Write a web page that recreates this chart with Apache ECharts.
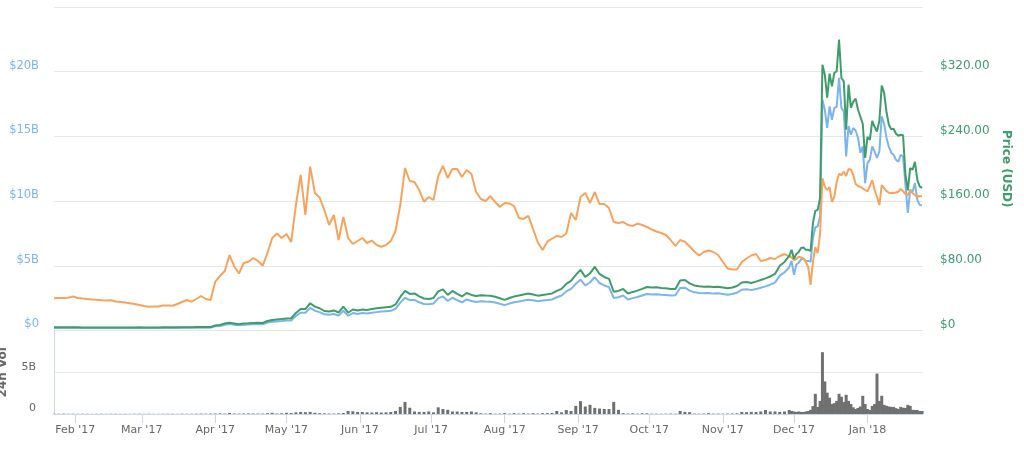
<!DOCTYPE html>
<html>
<head>
<meta charset="utf-8">
<title>Litecoin charts</title>
<script src="https://cdn.jsdelivr.net/npm/echarts@6/dist/echarts.min.js"></script>
<style>
  html, body { margin: 0; padding: 0; background: #fff; }
  #chart { width: 1024px; height: 452px; }
</style>
</head>
<body>
<div id="chart"></div>
<script>
// x is counted in days since 23 Jan 2017: every second day up to end of Nov, then daily
var startDay = Date.UTC(2017, 0, 23);
var dayMs = 86400000;
var dayOffsets = [];
for (var d = 0; d <= 310; d += 2) dayOffsets.push(d);
for (var d2 = 311; d2 <= 366; d2++) dayOffsets.push(d2);

var monthStarts = [
  Date.UTC(2017, 1, 1), Date.UTC(2017, 2, 1), Date.UTC(2017, 3, 1), Date.UTC(2017, 4, 1),
  Date.UTC(2017, 5, 1), Date.UTC(2017, 6, 1), Date.UTC(2017, 7, 1), Date.UTC(2017, 8, 1),
  Date.UTC(2017, 9, 1), Date.UTC(2017, 10, 1), Date.UTC(2017, 11, 1), Date.UTC(2018, 0, 1)
];
var monthNames = ['Jan', 'Feb', 'Mar', 'Apr', 'May', 'Jun', 'Jul', 'Aug', 'Sep', 'Oct', 'Nov', 'Dec'];

// market cap, billions USD
var marketCap = [
  0.20, 0.20, 0.20, 0.20, 0.21, 0.20, 0.19, 0.19, 0.19, 0.19,
  0.19, 0.19, 0.19, 0.19, 0.19, 0.19, 0.19, 0.19, 0.20, 0.19,
  0.19, 0.19, 0.19, 0.20, 0.20, 0.20, 0.20, 0.21, 0.21, 0.21,
  0.22, 0.22, 0.22, 0.22,
  0.32, 0.35, 0.45, 0.50, 0.45, 0.40, 0.45, 0.46, 0.48, 0.49, 0.48, 0.61, 0.67, 0.70, 0.73, 0.77, 0.78,
  1.12, 1.38, 1.37, 1.75, 1.53, 1.42, 1.25, 1.22, 1.28, 1.16,
  1.53, 1.14, 1.35, 1.28, 1.35, 1.32, 1.38, 1.42, 1.46, 1.49,
  1.52, 1.67, 2.15, 2.53, 2.34, 2.37, 2.18, 2.05, 2.02, 2.08,
  2.50, 2.63, 2.28, 2.53, 2.34, 2.18, 2.40, 2.28, 2.21, 2.26,
  2.24, 2.23, 2.17, 2.07, 1.96, 2.08, 2.18, 2.24, 2.31, 2.37,
  2.34, 2.26, 2.31, 2.35, 2.40, 2.57, 2.70, 3.02, 3.22, 3.61,
  3.93, 3.48, 3.71, 4.13, 3.67, 3.48, 3.35, 2.51, 2.57, 2.70,
  2.40, 2.50, 2.59, 2.70, 2.82, 2.79, 2.81, 2.76, 2.74, 2.70,
  2.72, 3.28, 3.31, 3.08, 2.95, 2.90, 2.87, 2.89, 2.85, 2.87,
  2.82, 2.77, 2.82, 2.92, 3.15, 3.18, 3.12, 3.20, 3.31, 3.41,
  3.54, 3.70, 4.24, 4.49, 4.89,
  5.38, 4.30, 5.10, 5.24, 5.50, 5.54, 5.38, 5.38, 5.30, 7.15,
  7.98, 8.04, 8.84, 17.84, 17.07, 15.65, 17.32, 16.29, 17.20, 17.28,
  19.52, 17.20, 16.93, 13.45, 15.80, 15.13, 15.65, 15.44, 14.90, 13.72,
  14.23, 11.39, 12.94, 13.20, 14.23, 13.82, 13.33, 13.84, 16.55, 15.98,
  14.90, 14.20, 13.74, 13.58, 13.20, 13.04, 13.58, 13.45, 11.26, 9.09,
  10.87, 10.74, 11.39, 10.10, 9.71, 9.67
];

// price in USD
var priceUsd = [
  3.9, 3.9, 3.9, 3.9, 4.0, 3.9, 3.8, 3.8, 3.8, 3.8,
  3.8, 3.8, 3.8, 3.8, 3.8, 3.8, 3.8, 3.8, 3.9, 3.8,
  3.8, 3.8, 3.8, 3.9, 3.9, 3.9, 3.9, 4.1, 4.1, 4.1,
  4.2, 4.3, 4.2, 4.3,
  6.2, 6.8, 8.7, 9.7, 8.7, 7.7, 8.7, 8.9, 9.3, 9.5, 9.3, 11.8, 13.0, 13.6, 14.2, 14.9, 15.1,
  21.7, 26.6, 26.5, 33.7, 29.5, 27.5, 24.1, 23.5, 24.8, 22.3,
  29.5, 22.0, 26.0, 24.8, 26.0, 25.4, 26.6, 27.5, 28.1, 28.7,
  29.3, 32.2, 41.5, 48.9, 45.2, 45.8, 42.1, 39.6, 39.0, 40.2,
  48.3, 50.8, 44.0, 48.9, 45.2, 42.1, 46.4, 44.0, 42.7, 43.7,
  43.3, 43.0, 41.8, 39.9, 37.8, 40.2, 42.1, 43.3, 44.6, 45.8,
  44.6, 43.1, 44.0, 44.8, 45.8, 48.9, 51.4, 57.6, 61.3, 68.7,
  74.9, 66.2, 70.6, 78.6, 69.9, 66.2, 63.8, 47.9, 48.9, 51.4,
  45.8, 47.7, 49.3, 51.4, 53.8, 53.2, 53.5, 52.6, 52.2, 51.4,
  51.4, 61.9, 62.5, 58.2, 55.7, 54.7, 54.2, 54.5, 53.8, 54.2,
  53.2, 52.2, 53.2, 55.1, 59.4, 60.0, 58.8, 60.4, 62.5, 64.4,
  66.8, 69.9, 80.0, 84.8, 92.2,
  99.7, 88.5, 94.7, 97.2, 102.0, 102.7, 99.7, 99.7, 98.4, 132.7,
  148.0, 149.2, 164.0, 328.7, 316.3, 287.8, 317.5, 301.8, 318.4, 320.6,
  359.6, 312.2, 308.0, 248.2, 303.9, 275.4, 282.9, 286.6, 273.0, 264.3,
  255.6, 213.5, 239.5, 235.8, 259.3, 251.9, 246.1, 259.3, 302.7, 294.0,
  270.5, 254.4, 248.8, 249.4, 243.3, 240.8, 242.0, 241.4, 192.5, 173.3,
  200.8, 198.7, 208.6, 186.3, 178.3, 176.4
];

// price in BTC
var priceBtc = [
  0.00418, 0.00422, 0.00422, 0.00425, 0.00441, 0.00422, 0.00415, 0.00409, 0.00402, 0.00399,
  0.00393, 0.00389, 0.00392, 0.00376, 0.00370, 0.00364, 0.00353, 0.00344, 0.00331, 0.00318,
  0.00309, 0.00312, 0.00312, 0.00325, 0.00325, 0.00322, 0.00344, 0.00370, 0.00396, 0.00374,
  0.00409, 0.00448, 0.00409, 0.00396,
  0.00634, 0.00708, 0.00772, 0.00980, 0.00831, 0.00740, 0.00876, 0.00893, 0.00941, 0.00902,
  0.00841, 0.01006, 0.01201, 0.01259, 0.01201, 0.01253, 0.01149,
  0.01629, 0.02019, 0.01500, 0.02127, 0.01785, 0.01727, 0.01564, 0.01370, 0.01500, 0.01175,
  0.01474, 0.01201, 0.01123, 0.01162, 0.01201, 0.01136, 0.01168, 0.01110, 0.01088, 0.01110,
  0.01162, 0.01292, 0.01629, 0.02110, 0.01941, 0.01928, 0.01824, 0.01672, 0.01733, 0.01694,
  0.02006, 0.02136, 0.01980, 0.02097, 0.02097, 0.01993, 0.02084, 0.02032, 0.01798, 0.01707,
  0.01681, 0.01746, 0.01668, 0.01603, 0.01655, 0.01649, 0.01616, 0.01461, 0.01448, 0.01487,
  0.01318, 0.01143, 0.01045, 0.01153, 0.01194, 0.01227, 0.01214, 0.01259, 0.01526, 0.01435,
  0.01733, 0.01785, 0.01655, 0.01798, 0.01642, 0.01642, 0.01590, 0.01409, 0.01396, 0.01409,
  0.01370, 0.01357, 0.01389, 0.01370, 0.01344, 0.01311, 0.01285, 0.01266, 0.01240, 0.01175,
  0.01097, 0.01175, 0.01153, 0.01091, 0.01026, 0.00974, 0.01019, 0.01039, 0.01019, 0.00980,
  0.00893, 0.00805, 0.00792, 0.00792, 0.00889, 0.00935, 0.00974, 0.00993, 0.00902, 0.00915,
  0.00941, 0.00928, 0.00967, 0.00993, 0.00961,
  0.00950, 0.00915, 0.00928, 0.00958, 0.00948, 0.00937, 0.00889, 0.00824, 0.00591, 0.00889,
  0.01084, 0.01006, 0.01253, 0.01976, 0.01867, 0.01824, 0.01863, 0.01672, 0.01733, 0.01928,
  0.02032, 0.02019, 0.02062, 0.02006, 0.02097, 0.02090, 0.02019, 0.01902, 0.01876, 0.01863,
  0.01844, 0.01824, 0.01805, 0.01876, 0.01954, 0.01824, 0.01737, 0.01629, 0.01889, 0.01850,
  0.01811, 0.01789, 0.01785, 0.01785, 0.01792, 0.01802, 0.01837, 0.01811, 0.01772, 0.01759,
  0.01824, 0.01785, 0.01759, 0.01737, 0.01746, 0.01740
];

// 24h volume, billions USD
var volume = [
  0.03, 0.03, 0.04, 0.03, 0.03, 0.02, 0.03, 0.03, 0.02, 0.03,
  0.03, 0.02, 0.03, 0.03, 0.02, 0.03, 0.02, 0.03, 0.03, 0.02,
  0.03, 0.02, 0.02, 0.03, 0.03, 0.03, 0.02, 0.04, 0.03, 0.03,
  0.04, 0.05, 0.04, 0.05,
  0.06, 0.08, 0.05, 0.12, 0.06, 0.05, 0.06, 0.07, 0.06, 0.05, 0.05, 0.10, 0.14, 0.06, 0.08, 0.14, 0.12,
  0.20, 0.24, 0.22, 0.25, 0.15, 0.10, 0.08, 0.06, 0.05, 0.08,
  0.12, 0.36, 0.33, 0.25, 0.24, 0.20, 0.18, 0.22, 0.18, 0.20,
  0.24, 0.36, 0.85, 1.45, 0.75, 0.30, 0.25, 0.25, 0.30, 0.20,
  0.80, 0.60, 0.50, 0.30, 0.30, 0.25, 0.25, 0.30, 0.20, 0.08,
  0.05, 0.10, 0.04, 0.05, 0.10, 0.04, 0.10, 0.05, 0.10, 0.05,
  0.10, 0.05, 0.10, 0.10, 0.12, 0.36, 0.20, 0.48, 0.36, 0.97,
  1.54, 0.90, 1.10, 0.73, 0.65, 0.60, 0.60, 1.45, 0.50, 0.10,
  0.05, 0.08, 0.04, 0.08, 0.08, 0.04, 0.04, 0.03, 0.04, 0.05,
  0.04, 0.36, 0.25, 0.22, 0.05, 0.04, 0.06, 0.10, 0.04, 0.05,
  0.04, 0.05, 0.06, 0.08, 0.25, 0.22, 0.25, 0.24, 0.30, 0.48,
  0.30, 0.30, 0.25, 0.30, 0.48,
  0.36, 0.30, 0.25, 0.30, 0.25, 0.24, 0.30, 0.36, 0.50, 0.95,
  2.42, 0.85, 1.57, 7.40, 3.90, 2.55, 1.95, 1.20, 1.30, 1.57,
  2.42, 2.06, 1.45, 2.30, 1.57, 1.20, 0.80, 0.60, 0.73, 0.90,
  2.18, 1.20, 0.60, 0.48, 0.97, 1.20, 4.84, 1.57, 2.18, 1.09,
  0.97, 0.90, 0.85, 0.85, 0.70, 0.60, 0.85, 0.75, 0.73, 1.09,
  0.97, 0.50, 0.48, 0.48, 0.36, 0.36
];

function pairs(values) {
  return dayOffsets.map(function (d, i) { return [d, values[i]]; });
}
var monthTicks = monthStarts.map(function (t) { return (t - startDay) / dayMs; });
function monthLabel(v) {
  var dt = new Date(startDay + v * dayMs);
  return monthNames[dt.getUTCMonth()] + " '" + String(dt.getUTCFullYear()).slice(2);
}

var xMax = 366.4;
var blue = '#7cb5ec', orange = '#f7a35c', green = '#3f9c6c', grey = '#666666';
var font = 'DejaVu Sans';

var chart = echarts.init(document.getElementById('chart'));
var option = {
  animation: false,
  textStyle: { fontFamily: font },
  grid: [
    { left: 54, right: 101, top: 7, height: 323.5, containLabel: false, outerBoundsMode: 'none' },
    { left: 54, right: 101, top: 330.5, height: 83.5, containLabel: false, outerBoundsMode: 'none' }
  ],
  xAxis: [
    { type: 'value', gridIndex: 0, min: 0, max: xMax, show: false },
    {
      type: 'value', gridIndex: 1, min: 0, max: xMax,
      axisLine: { show: true, onZero: false, lineStyle: { color: '#ccd6eb', width: 1 } },
      axisTick: { show: true, customValues: monthTicks, length: 9, lineStyle: { color: '#ccd6eb' } },
      axisLabel: { customValues: monthTicks, color: grey, fontSize: 11, margin: 11, formatter: monthLabel },
      splitLine: { show: false }
    }
  ],
  yAxis: [
    {
      type: 'value', gridIndex: 0, position: 'left', min: 0, max: 25, interval: 5,
      name: 'Market Cap', nameLocation: 'middle', nameRotate: 90, nameGap: 50,
      nameTextStyle: { color: blue, fontWeight: 'bold', fontSize: 12 },
      axisLine: { show: false }, axisTick: { show: false },
      axisLabel: {
        color: blue, fontSize: 11.5, margin: 15, verticalAlign: 'bottom', showMaxLabel: false,
        formatter: function (v) { return v === 0 ? '$0' : '$' + v + 'B'; }
      },
      splitLine: { lineStyle: { color: '#e6e6e6' } }
    },
    {
      type: 'value', gridIndex: 0, position: 'right', min: 0, max: 400, interval: 80,
      name: 'Price (USD)', nameLocation: 'middle', nameRotate: -90, nameGap: 71,
      nameTextStyle: { color: green, fontWeight: 'bold', fontSize: 12 },
      axisLine: { show: false }, axisTick: { show: false },
      axisLabel: {
        color: green, fontSize: 12, margin: 17, verticalAlign: 'bottom', showMaxLabel: false,
        formatter: function (v) { return v === 0 ? '$0' : '$' + v.toFixed(2); }
      },
      splitLine: { show: false }
    },
    { type: 'value', gridIndex: 0, min: 0, max: 0.042, show: false },
    {
      type: 'value', gridIndex: 1, position: 'left', min: 0, max: 10, interval: 5,
      name: '24h Vol', nameLocation: 'middle', nameRotate: 90, nameGap: 45,
      nameTextStyle: { color: grey, fontWeight: 'bold', fontSize: 12 },
      axisLine: { show: true, onZero: false, lineStyle: { color: '#ccd6eb' } }, axisTick: { show: false },
      axisLabel: {
        color: grey, fontSize: 11, margin: 18, verticalAlign: 'bottom', showMaxLabel: false,
        formatter: function (v) { return v === 0 ? '0' : v + 'B'; }
      },
      splitLine: { lineStyle: { color: '#e6e6e6' } }
    }
  ],
  series: [
    {
      name: 'Market Cap', type: 'line', xAxisIndex: 0, yAxisIndex: 0, data: pairs(marketCap),
      symbol: 'none', lineStyle: { width: 2, color: blue }, itemStyle: { color: blue }, z: 2
    },
    {
      name: 'Price (BTC)', type: 'line', xAxisIndex: 0, yAxisIndex: 2, data: pairs(priceBtc),
      symbol: 'none', lineStyle: { width: 2, color: orange }, itemStyle: { color: orange }, z: 3
    },
    {
      name: 'Price (USD)', type: 'line', xAxisIndex: 0, yAxisIndex: 1, data: pairs(priceUsd),
      symbol: 'none', lineStyle: { width: 2, color: green }, itemStyle: { color: green }, z: 4
    },
    {
      name: '24h Vol', type: 'bar', xAxisIndex: 1, yAxisIndex: 3, data: pairs(volume),
      barWidth: 3, itemStyle: { color: '#707070' }
    }
  ]
};
chart.setOption(option);
</script>
</body>
</html>
